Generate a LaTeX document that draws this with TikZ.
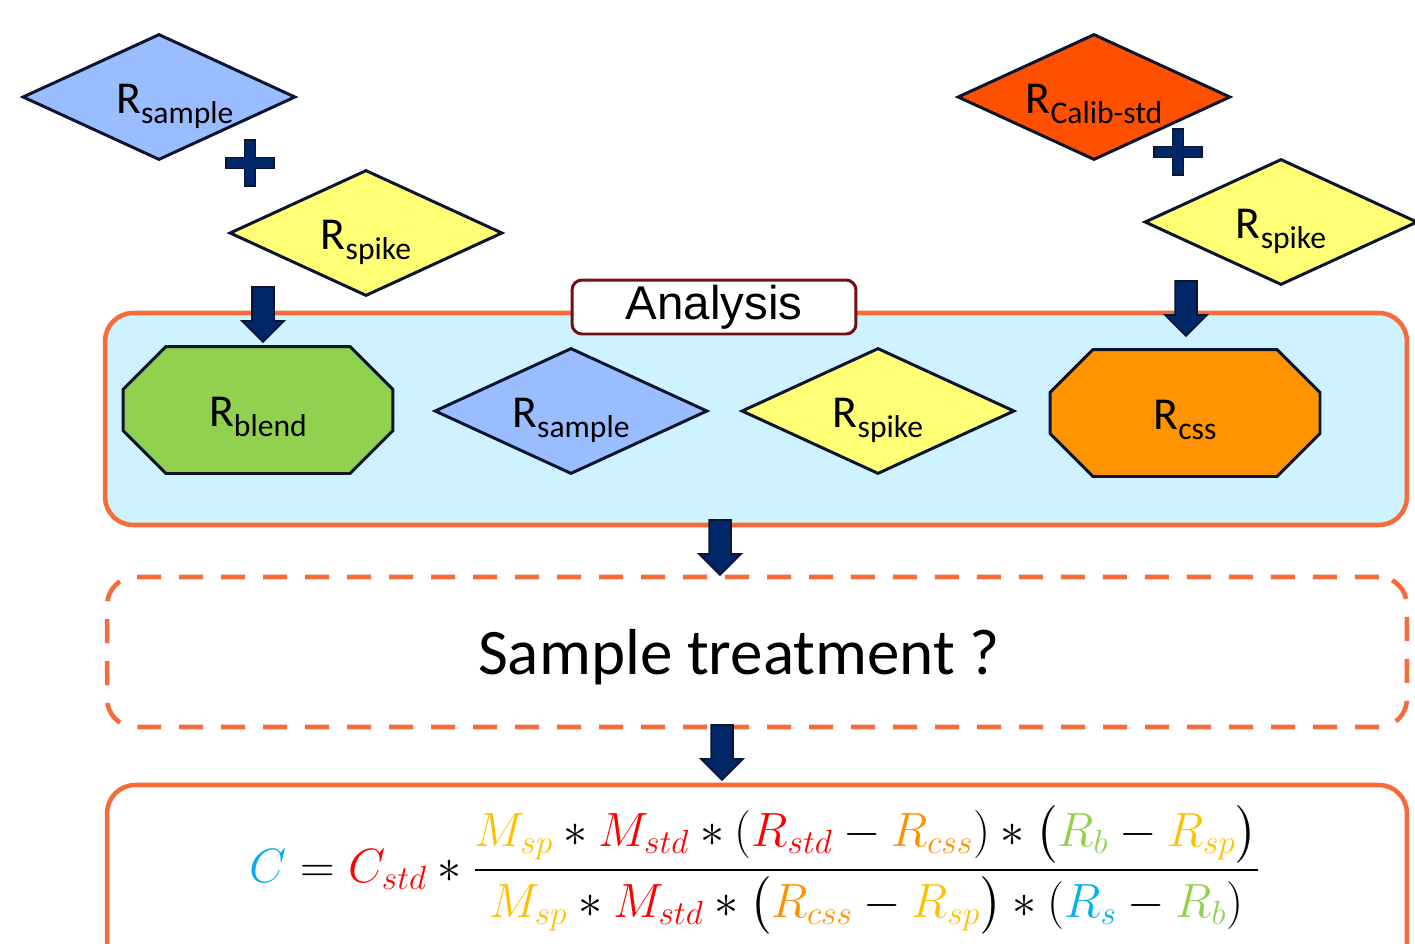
\documentclass[tikz,border=0pt]{standalone}
\usepackage{amsmath}
\usepackage{graphicx}
\usepackage{fontspec}
\setmainfont{Carlito}
\newfontfamily\arialfont{Liberation Sans}
\usepackage{xcolor}
\usepackage{tikz}
\usetikzlibrary{shapes.geometric,shapes.misc,shapes.arrows}

\definecolor{outlinenavy}{RGB}{12,20,48}
\definecolor{arrownavy}{RGB}{0,40,104}
\definecolor{skyfill}{RGB}{206,242,255}
\definecolor{frameorange}{RGB}{245,108,58}
\definecolor{labelmaroon}{RGB}{112,16,24}
\definecolor{diamondblue}{RGB}{153,189,255}
\definecolor{diamondyellow}{RGB}{255,255,117}
\definecolor{calibred}{RGB}{255,80,0}
\definecolor{blendgreen}{RGB}{146,208,80}
\definecolor{cssorange}{RGB}{255,147,0}
\definecolor{fcyan}{RGB}{0,176,240}
\definecolor{fred}{RGB}{255,0,0}
\definecolor{fgold}{RGB}{255,192,0}
\definecolor{forange}{RGB}{255,145,0}
\definecolor{fgreen}{RGB}{146,208,80}

\DeclareMathSizes{25}{25}{19}{15}

% R with a lowered Carlito subscript
\newcommand{\rlab}[1]{{\fontsize{26}{26}\selectfont R}\smash{\fontsize{18}{18}\selectfont\raisebox{-5.7pt}{#1}}}
\newcommand{\colm}[2]{{\color{#1}#2}}

\begin{document}
\begin{tikzpicture}[x=0.02cm,y=-0.02cm,
  ratio/.style={diamond, draw=outlinenavy, line width=1.7pt, inner sep=0pt, shape aspect=2.2,
    minimum width=5.46cm, minimum height=2.52cm, text height=19pt, text depth=0pt},
  measured/.style={chamfered rectangle, chamfered rectangle xsep=0.33cm, chamfered rectangle ysep=0.53cm,
    draw=outlinenavy, line width=1.7pt, inner sep=0pt, minimum width=5.4cm, minimum height=2.54cm,
    text height=19pt, text depth=0pt},
  fatarrow/.style={single arrow, draw=outlinenavy, fill=arrownavy, line width=1pt, rotate=-90,
    inner xsep=0pt, inner ysep=0.2cm, single arrow head extend=0.2cm, minimum height=1.1cm},
  frame/.style={rectangle, rounded corners=0.56cm, draw=frameorange, line width=2.6pt,
    minimum width=26cm},
  pics/plusmark/.style={code={
    \draw[fill=arrownavy, draw=outlinenavy, line width=1pt]
      (-24,-5.5) -- (-5.5,-5.5) -- (-5.5,-23) -- (5.5,-23) -- (5.5,-5.5) -- (24,-5.5)
      -- (24,5.5) -- (5.5,5.5) -- (5.5,23) -- (-5.5,23) -- (-5.5,5.5) -- (-24,5.5) -- cycle;}}
]
\useasboundingbox (0,0) rectangle (1415,943);

% frames
\node[frame, fill=skyfill, minimum width=26.04cm, minimum height=4.24cm] (analysis) at (756,419) {};
\node[frame, dash pattern=on 0.48cm off 0.36cm, minimum height=3cm] (treatment) at (757,652) {};
\node (treatmenttext) at (739,657) {\fontsize{37}{40}\selectfont Sample treatment ?};
\node[frame, minimum height=4cm] (result) at (757,885) {};
\node[rectangle, rounded corners=0.2cm, draw=labelmaroon, fill=white, line width=1.7pt,
  minimum width=5.68cm, minimum height=1.08cm, inner sep=0pt] (analysislabel) at (714,307)
  {\arialfont\fontsize{27}{30}\selectfont Analysis};

% sample + spike
\node[ratio, fill=diamondblue] (sampleA) at (159,97) {\hspace*{18pt}\rlab{sample}};
\node[ratio, fill=diamondyellow] (spikeA) at (366,233) {\rlab{spike}};
\pic at (250,163) {plusmark};

% calibration standard + spike
\node[ratio, fill=calibred] (calib) at (1094,97) {\rlab{Calib-std}};
\node[ratio, fill=diamondyellow] (spikeC) at (1281,222) {\rlab{spike}};
\pic at (1178,152) {plusmark};

% measured ratios
\node[measured, fill=blendgreen] (blend) at (258,410) {\rlab{blend}};
\node[ratio, fill=diamondblue] (sampleB) at (571,411) {\rlab{sample}};
\node[ratio, fill=diamondyellow] (spikeB) at (878,411) {\rlab{spike}};
\node[measured, fill=cssorange] (css) at (1185,413) {\rlab{css}};

% block arrows
\node[fatarrow] (toblend) at (263,309) {};
\node[fatarrow] (tocss) at (1186,303) {};
\node[fatarrow] (totreatment) at (720,542) {};
\node[fatarrow] (toresult) at (722,747) {};

% equation
\node (formula) at (755,870) {\scalebox{1.1}{\fontsize{25}{30}\selectfont$\displaystyle
  \colm{fcyan}{C} = \colm{fred}{C_{std}} * \frac{\colm{fgold}{M_{sp}} * \colm{fred}{M_{std}} *
  (\colm{fred}{R_{std}} - \colm{forange}{R_{css}}) * \bigl(\colm{fgreen}{R_b} - \colm{fgold}{R_{sp}}\bigr)}
  {\colm{fgold}{M_{sp}} * \colm{fred}{M_{std}} * \bigl(\colm{forange}{R_{css}} - \colm{fgold}{R_{sp}}\bigr) *
  (\colm{fcyan}{R_s} - \colm{fgreen}{R_b})}$}};
\end{tikzpicture}
\end{document}
